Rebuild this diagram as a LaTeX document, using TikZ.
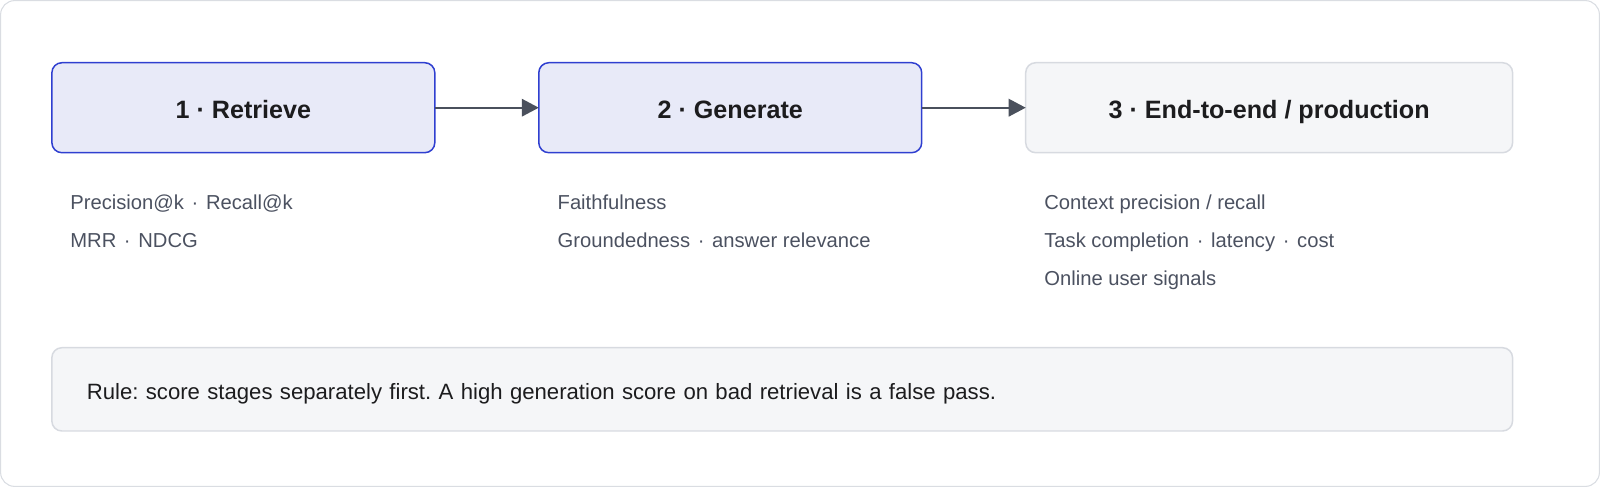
\documentclass[tikz,border=0pt]{standalone}
\usepackage{fontspec}
\setmainfont{Liberation Sans}
\usepackage{tikz}
\usetikzlibrary{arrows.meta}
\usetikzlibrary{positioning}
\frenchspacing

\definecolor{stagefill}{HTML}{E8EAF8}
\definecolor{stageedge}{HTML}{2F3FD0}
\definecolor{prodfill}{HTML}{F5F6F8}
\definecolor{prodedge}{HTML}{D7DAE0}
\definecolor{arrowgray}{HTML}{4A505C}
\definecolor{metricgray}{HTML}{4B5160}
\definecolor{inkdark}{HTML}{1C1C1E}
\definecolor{framegray}{HTML}{DADDE2}

\newcommand\mdot{\hspace{0.1em}·\hspace{0.1em}}

\tikzset{
        stage/.style={rounded corners=0.2cm, line width=0.85pt, draw=stageedge, fill=stagefill,
                minimum width=7.66cm, minimum height=1.8cm, outer sep=0pt, text=inkdark,
                font=\bfseries\fontsize{14.3}{17}\selectfont, text height=13.8pt, text depth=1.85pt},
        prod/.style={stage, draw=prodedge, fill=prodfill, minimum width=9.74cm},
        metric/.style={anchor=base west, inner sep=0pt, text=metricgray,
                font=\fontsize{11.5}{13}\selectfont},
        rulebox/.style={rounded corners=0.2cm, line width=0.85pt, draw=prodedge, fill=prodfill,
                text width=27.82cm, align=left, inner xsep=0.7cm, minimum height=1.666cm,
                text=inkdark, font=\fontsize{12.6}{15}\selectfont, text height=13.2pt, text depth=1.25pt},
        flow/.style={line width=1.1pt, draw=arrowgray, -{Triangle[length=0.34cm, width=0.35cm]}}
}

\begin{document}
\begin{tikzpicture}[x=0.02cm, y=-0.02cm, node distance=2.08cm]
        \useasboundingbox (0,0) rectangle (1600,487);
        \draw[framegray, line width=0.6pt, rounded corners=0.28cm] (0.6,0.6) rectangle (1599.4,486.4);

        \node[stage] (retrieve) at (243.35,107.7) {1 · Retrieve};
        \node[stage, right=of retrieve] (generate) {2 · Generate};
        \node[prod, right=of generate] (production) {3 · End-to-end / production};

        \draw[flow] (retrieve) -- (generate);
        \draw[flow] (generate) -- (production);

        \node[metric] (retrieve-m1) at (70,209) {Precision@k \mdot{} Recall@k};
        \node[metric] (retrieve-m2) at (70,247) {MRR \mdot{} NDCG};
        \node[metric] (generate-m1) at (557.3,209) {Faithfulness};
        \node[metric] (generate-m2) at (557.3,247) {Groundedness \mdot{} answer relevance};
        \node[metric] (production-m1) at (1044,209) {Context precision / recall};
        \node[metric] (production-m2) at (1044,247) {Task completion \mdot{} latency \mdot{} cost};
        \node[metric] (production-m3) at (1044,285) {Online user signals};

        \node[rulebox] (rule) at (782.2,389.35) {Rule: score stages separately first. A high generation score on bad retrieval is a false pass.};
\end{tikzpicture}
\end{document}
